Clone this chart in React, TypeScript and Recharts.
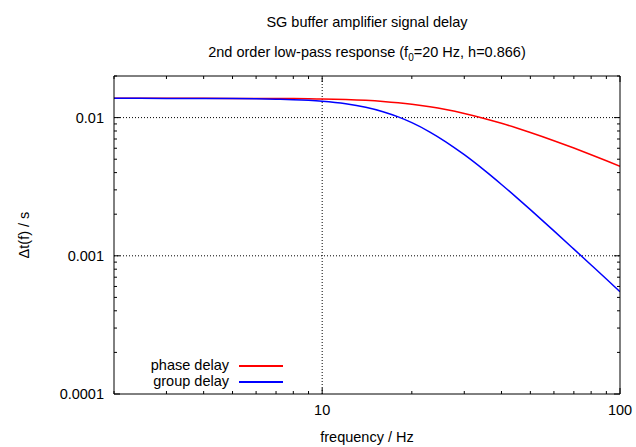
import { LineChart, Line, XAxis, YAxis, ReferenceLine } from 'recharts'

// frequency points (Hz) and delays (s)
const frequency = [2, 3, 4, 5, 6, 7, 8, 9, 10, 12, 14, 16, 18, 20, 23, 26, 30, 35, 40, 45, 50, 60, 70, 80, 90, 100]
const phaseDelay = [
  0.013782, 0.013781, 0.013779, 0.013773, 0.013761, 0.013746, 0.013721, 0.013686, 0.013641, 0.013512, 0.01333,
  0.013096, 0.012817, 0.0125, 0.01198, 0.011436, 0.010712, 0.009859, 0.00909, 0.008407, 0.007805, 0.006805,
  0.006019, 0.005389, 0.004875, 0.004449,
]
const groupDelay = [
  0.013782, 0.013776, 0.013762, 0.013733, 0.013681, 0.013601, 0.013485, 0.013329, 0.013127, 0.012584, 0.01187,
  0.011029, 0.010116, 0.009189, 0.007862, 0.006685, 0.005389, 0.004166, 0.003282, 0.002637, 0.002158, 0.001515,
  0.001118, 0.000858, 0.000679, 0.00055,
]

const xMajor = [10, 100]
const xMinor = [2, 3, 4, 5, 6, 7, 8, 9, 20, 30, 40, 50, 60, 70, 80, 90]
const yMajor = [0.0001, 0.001, 0.01]
const yMinor = [
  0.0002, 0.0003, 0.0004, 0.0005, 0.0006, 0.0007, 0.0008, 0.0009, 0.002, 0.003, 0.004, 0.005, 0.006, 0.007,
  0.008, 0.009, 0.02,
]

const series = [
  { key: 'phase', name: 'phase delay', color: '#ff0000' },
  { key: 'group', name: 'group delay', color: '#0000ff' },
]

const data = frequency.map((f, i) => ({ f, phase: phaseDelay[i], group: groupDelay[i] }))

const FONT = '"Liberation Sans", Arial, Helvetica, sans-serif'
const FS = 14.5

// gnuplot style: ticks point into the plot
const makeTick = (side: 'bottom' | 'top' | 'left' | 'right', majors: number[], label: boolean) => (props: any) => {
  const { x, y, payload } = props
  const major = majors.includes(payload.value)
  const len = major ? 6 : 3
  let line
  if (side === 'bottom') line = <line x1={x} x2={x} y1={y} y2={y - len} stroke="#000" />
  else if (side === 'top') line = <line x1={x} x2={x} y1={y} y2={y + len} stroke="#000" />
  else if (side === 'left') line = <line x1={x} x2={x + len} y1={y} y2={y} stroke="#000" />
  else line = <line x1={x} x2={x - len} y1={y} y2={y} stroke="#000" />
  return (
    <g>
      {line}
      {label && major && side === 'bottom' && (
        <text x={x} y={y + 16} textAnchor="middle" dominantBaseline="central" fontSize={FS} fontFamily={FONT} fill="#000">
          {payload.value}
        </text>
      )}
      {label && major && side === 'left' && (
        <text x={x - 10} y={y} textAnchor="end" dominantBaseline="central" fontSize={FS} fontFamily={FONT} fill="#000">
          {String(payload.value)}
        </text>
      )}
    </g>
  )
}

const xTicks = [...xMinor, ...xMajor].sort((a, b) => a - b)
const yTicks = [...yMinor, ...yMajor].sort((a, b) => a - b)

export default function App() {
  return (
    <div style={{ position: 'absolute', left: 0, top: 0, width: 636, height: 447, fontFamily: FONT, color: '#000' }}>
      <LineChart width={636} height={447} data={data} margin={{ top: 0, right: 0, bottom: 0, left: 0 }}>
        <XAxis
          dataKey="f"
          type="number"
          scale="log"
          domain={[2, 100]}
          allowDataOverflow
          ticks={xTicks}
          interval={0}
          tickSize={0}
          tickMargin={0}
          height={53}
          stroke="#000"
          tick={makeTick('bottom', xMajor, true)}
          label={{
            content: ({ viewBox }: any) => (
              <text x={viewBox.x + viewBox.width / 2} y={viewBox.y + 43} textAnchor="middle" dominantBaseline="central" fontSize={FS} fontFamily={FONT} fill="#000">
                frequency / Hz
              </text>
            ),
          }}
        />
        <XAxis
          xAxisId="top"
          dataKey="f"
          type="number"
          scale="log"
          orientation="top"
          domain={[2, 100]}
          allowDataOverflow
          ticks={xTicks}
          interval={0}
          tickSize={0}
          tickMargin={0}
          height={76}
          stroke="#000"
          tick={makeTick('top', xMajor, false)}
        />
        <YAxis
          type="number"
          scale="log"
          domain={[0.0001, 0.02]}
          allowDataOverflow
          ticks={yTicks}
          interval={0}
          tickSize={0}
          tickMargin={0}
          width={114}
          stroke="#000"
          tick={makeTick('left', yMajor, true)}
          label={{
            content: ({ viewBox }: any) => {
              const cx = 24
              const cy = viewBox.y + viewBox.height / 2
              return (
                <text x={cx} y={cy} transform={`rotate(-90 ${cx} ${cy})`} textAnchor="middle" dominantBaseline="central" fontSize={FS} fontFamily={FONT} fill="#000">
                  Δt(f) / s
                </text>
              )
            },
          }}
        />
        <YAxis
          yAxisId="right"
          orientation="right"
          type="number"
          scale="log"
          domain={[0.0001, 0.02]}
          allowDataOverflow
          ticks={yTicks}
          interval={0}
          tickSize={0}
          tickMargin={0}
          width={16}
          stroke="#000"
          tick={makeTick('right', yMajor, false)}
        />
        {xMajor.slice(0, 1).map((v) => (
          <ReferenceLine key={'x' + v} x={v} stroke="#000" strokeDasharray="1 2" />
        ))}
        {yMajor.slice(1).map((v) => (
          <ReferenceLine key={'y' + v} y={v} stroke="#000" strokeDasharray="1 2" />
        ))}
        {series.map((s) => (
          <Line key={s.key} dataKey={s.key} name={s.name} stroke={s.color} strokeWidth={1.5} dot={false} type="monotone" isAnimationActive={false} />
        ))}
      </LineChart>

      <div style={{ position: 'absolute', left: 114, width: 506, top: 14, textAlign: 'center', fontSize: FS, lineHeight: '16px' }}>
        SG buffer amplifier signal delay
      </div>
      <div style={{ position: 'absolute', left: 114, width: 506, top: 44, textAlign: 'center', fontSize: FS, lineHeight: '16px' }}>
        2nd order low-pass response (f<span style={{ fontSize: 10, position: 'relative', top: 4 }}>0</span>=20 Hz, h=0.866)
      </div>

      {series.map((s, i) => (
        <div key={s.key} style={{ position: 'absolute', left: 120, top: 357 + i * 16, width: 170, height: 16, fontSize: FS, lineHeight: '16px' }}>
          <div style={{ position: 'absolute', left: 0, top: 0, width: 109, textAlign: 'right' }}>{s.name}</div>
          <div style={{ position: 'absolute', left: 119, top: 8, width: 44, height: 1.5, background: s.color }} />
        </div>
      ))}
    </div>
  )
}
